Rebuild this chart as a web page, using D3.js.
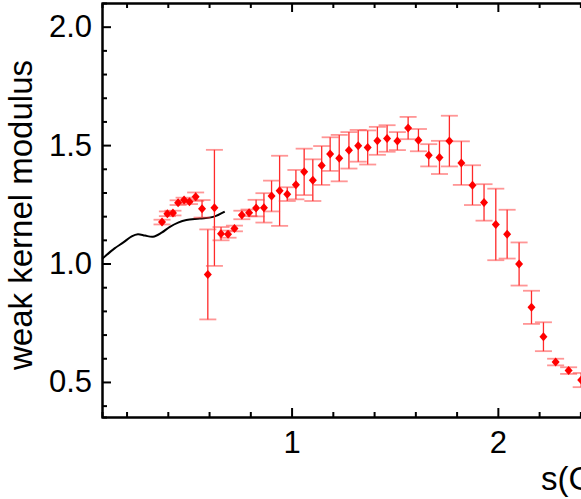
<!DOCTYPE html>
<html lang="en">
	<head>
		<meta charset="utf-8">
		<title>weak kernel modulus</title>
		<script src="https://d3js.org/d3.v7.min.js"></script>
		<style type="text/css">
			body { margin:0; background:#fff; }
			#chart { width:581px; height:499px; overflow:hidden; }
			text { font-family:"Liberation Sans", Arial, Helvetica, sans-serif; fill:#000; }
		</style>
	</head>
	<body>
		<div id="chart"></div>

		<script type="text/javascript">

			// data points
			var sVals = [0.372, 0.398, 0.425, 0.45, 0.479, 0.505, 0.535, 0.566, 0.594, 0.626,
			             0.658, 0.692, 0.723, 0.759, 0.794, 0.828, 0.866, 0.903, 0.942, 0.979,
			             1.021, 1.061, 1.103, 1.146, 1.187, 1.231, 1.278, 1.323, 1.369, 1.416,
			             1.463, 1.513, 1.565, 1.615, 1.665, 1.717, 1.765, 1.823, 1.877, 1.933,
			             1.99, 2.045, 2.103, 2.163, 2.221, 2.28, 2.343, 2.404];
			var modVals = [1.175, 1.21, 1.213, 1.257, 1.268, 1.261, 1.282, 1.231, 0.954, 1.235,
			               1.126, 1.124, 1.148, 1.205, 1.214, 1.234, 1.235, 1.285, 1.307, 1.293,
			               1.333, 1.387, 1.352, 1.414, 1.462, 1.445, 1.478, 1.497, 1.49, 1.518,
			               1.528, 1.517, 1.572, 1.521, 1.457, 1.448, 1.517, 1.424, 1.331, 1.258,
			               1.165, 1.124, 0.998, 0.815, 0.691, 0.584, 0.548, 0.508];
			var errVals = [0.01, 0.01, 0.01, 0.01, 0.01, 0.01, 0.018, 0.037, 0.19, 0.245,
			               0.028, 0.015, 0.012, 0.018, 0.014, 0.035, 0.062, 0.065, 0.148, 0.029,
			               0.062, 0.098, 0.088, 0.082, 0.071, 0.098, 0.077, 0.067, 0.072, 0.059,
			               0.056, 0.038, 0.047, 0.047, 0.047, 0.07, 0.107, 0.092, 0.084, 0.077,
			               0.151, 0.103, 0.091, 0.07, 0.061, 0.014, 0.014, 0.03];

			// black theory curve
			var curveS = [0.082, 0.142, 0.183, 0.225, 0.255, 0.29, 0.328, 0.37, 0.41, 0.45, 0.49, 0.555, 0.62, 0.676];
			var curveMod = [1.02, 1.064, 1.088, 1.115, 1.124, 1.118, 1.113, 1.13, 1.155, 1.173, 1.184, 1.19, 1.197, 1.219];

			var yMajor = [0.5, 1.0, 1.5, 2.0];
			var xMajor = [1, 2];

			var margin = {top: 3, left: 102},
			    width = 499,
			    height = 414;

			var x = d3.scaleLinear()
			          .domain([0.081, 2.5])
			          .range([0, width]);

			var y = d3.scaleLinear()
			          .domain([0.352, 2.1])
			          .range([height, 0]);

			var svg = d3.select('#chart')
				.append('svg')
				.attr('width', 581)
				.attr('height', 499);

			var main = svg.append('g')
				.attr('transform', 'translate(' + margin.left + ',' + margin.top + ')');

			var xMinor = d3.range(0.2, 2.5, 0.2).filter(function(v) { return Math.abs(v - Math.round(v)) > 1e-6; });
			var yMinor = d3.range(0.4, 2.1, 0.1).filter(function(v) { return Math.abs(v * 2 - Math.round(v * 2)) > 1e-6; });

			function styleAxis(g) {
				g.selectAll('.domain').attr('stroke', '#000').attr('stroke-width', 2);
				g.selectAll('.tick line').attr('stroke', '#000').attr('stroke-width', 2);
			}

			// bottom axis (ticks pointing in)
			main.append('g')
				.attr('transform', 'translate(0,' + height + ')')
				.call(d3.axisBottom(x).tickValues(xMajor).tickSizeInner(-9).tickSizeOuter(0).tickPadding(14).tickFormat(d3.format('d')))
				.call(styleAxis)
				.selectAll('text').attr('font-size', 31).attr('dy', '0.71em');
			main.append('g')
				.attr('transform', 'translate(0,' + height + ')')
				.call(d3.axisBottom(x).tickValues(xMinor).tickSize(-5).tickFormat(''))
				.call(styleAxis);

			// top axis
			main.append('g')
				.call(d3.axisTop(x).tickValues(xMajor).tickSizeInner(-9).tickSizeOuter(0).tickFormat(''))
				.call(styleAxis);
			main.append('g')
				.call(d3.axisTop(x).tickValues(xMinor).tickSize(-5).tickFormat(''))
				.call(styleAxis);

			// left axis
			main.append('g')
				.call(d3.axisLeft(y).tickValues(yMajor).tickSizeInner(-9).tickSizeOuter(0).tickPadding(10).tickFormat(d3.format('.1f')))
				.call(styleAxis)
				.selectAll('text').attr('font-size', 31);
			main.append('g')
				.call(d3.axisLeft(y).tickValues(yMinor).tickSize(-5).tickFormat(''))
				.call(styleAxis);

			// right axis (lies past the window edge)
			main.append('g')
				.attr('transform', 'translate(' + width + ',0)')
				.call(d3.axisRight(y).tickValues(yMajor).tickSizeInner(-9).tickSizeOuter(0).tickFormat(''))
				.call(styleAxis);

			// curve
			var line = d3.line()
				.x(function(d) { return x(d[0]); })
				.y(function(d) { return y(d[1]); })
				.curve(d3.curveCatmullRom);

			main.append('path')
				.datum(d3.zip(curveS, curveMod))
				.attr('d', line)
				.attr('fill', 'none')
				.attr('stroke', '#000')
				.attr('stroke-width', 2);

			// error bars + diamonds
			var pts = sVals.map(function(s, i) { return {s: s, m: modVals[i], e: errVals[i]}; });
			var capW = 8.5;

			var eb = main.append('g');
			eb.selectAll('line.v')
				.data(pts)
				.enter().append('line')
				.attr('x1', function(d) { return x(d.s); })
				.attr('x2', function(d) { return x(d.s); })
				.attr('y1', function(d) { return y(d.m + d.e); })
				.attr('y2', function(d) { return y(d.m - d.e); })
				.attr('stroke', '#ff2a2a')
				.attr('stroke-width', 1.3);

			[1, -1].forEach(function(sign) {
				eb.selectAll(null)
					.data(pts)
					.enter().append('line')
					.attr('x1', function(d) { return x(d.s) - capW; })
					.attr('x2', function(d) { return x(d.s) + capW; })
					.attr('y1', function(d) { return y(d.m + sign * d.e); })
					.attr('y2', function(d) { return y(d.m + sign * d.e); })
					.attr('stroke', '#ff4040')
					.attr('stroke-opacity', 0.55)
					.attr('stroke-width', 1.8);
			});

			main.append('g').selectAll('path')
				.data(pts)
				.enter().append('path')
				.attr('d', 'M0,-4.5L4,0L0,4.5L-4,0Z')
				.attr('transform', function(d) { return 'translate(' + x(d.s) + ',' + y(d.m) + ')'; })
				.attr('fill', '#ff0000');

			// axis titles
			svg.append('text')
				.attr('transform', 'translate(32,215) rotate(-90)')
				.attr('text-anchor', 'middle')
				.attr('font-size', 33)
				.text('weak kernel modulus');

			svg.append('text')
				.attr('x', 541)
				.attr('y', 490)
				.attr('font-size', 33)
				.text('s(GeV\u00b2)');

		</script>
	</body>
</html>
